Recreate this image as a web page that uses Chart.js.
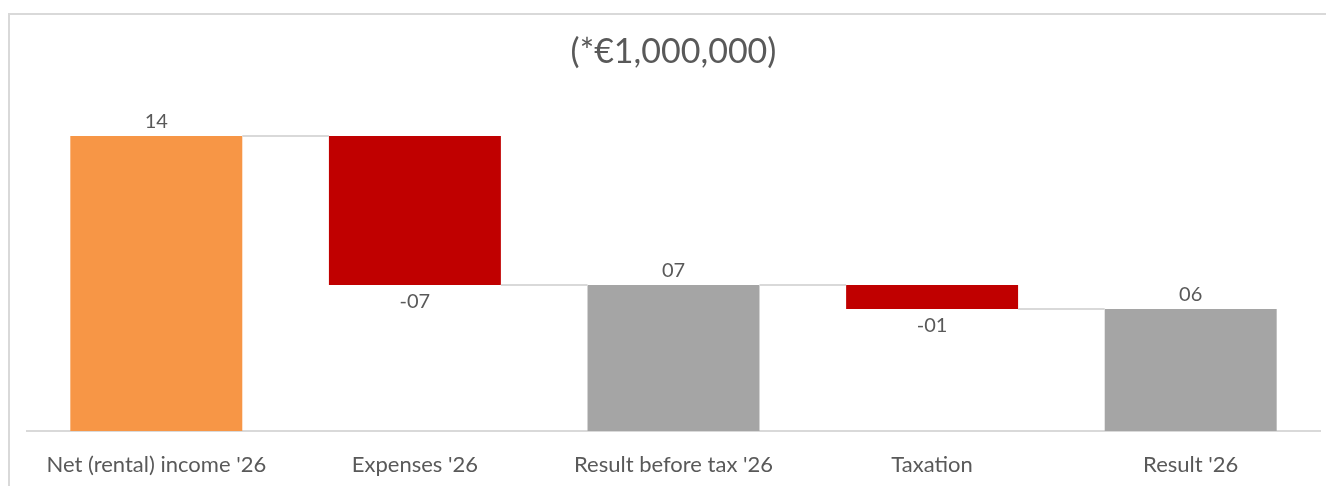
<!DOCTYPE html>
<html>
<head>
<meta charset="utf-8">
<script src="https://cdn.jsdelivr.net/npm/chart.js@4"></script>
<style>
  html, body { margin: 0; padding: 0; background: #ffffff; overflow: hidden; }
  canvas { display: block; }
</style>
</head>
<body>
<canvas id="waterfall" width="1326" height="486"></canvas>
<script>
// categories and values (in millions of euro)
var categories = ["Net (rental) income '26", "Expenses '26", "Result before tax '26", "Taxation", "Result '26"];
var values = [14.0, -7.07, 6.93, -1.14, 5.79];
var isTotal = [true, false, true, false, true];
var barColors = ['#F79646', '#C00000', '#A5A5A5', '#C00000', '#A5A5A5'];

// build the floating ranges for the waterfall
var ranges = [];
var running = 0;
values.forEach(function(v, i) {
    if (isTotal[i]) {
        ranges.push([0, v]);
        running = v;
    } else {
        ranges.push([running, running + v]);
        running = running + v;
    }
});

function fmtLabel(v) {
    var s = String(Math.round(Math.abs(v))).padStart(2, '0');
    return (v < 0 ? '-' : '') + s;
}

var textColor = '#595959';
var fontFamily = 'Lato, "Open Sans", sans-serif';

// frame lines round the chart (left and top only, like the source)
var framePlugin = {
    id: 'frame',
    beforeDraw: function(chart) {
        var ctx = chart.ctx;
        ctx.save();
        ctx.strokeStyle = '#d9d9d9';
        ctx.lineWidth = 2;
        ctx.beginPath();
        ctx.moveTo(9, 486);
        ctx.lineTo(9, 14);
        ctx.lineTo(1326, 14);
        ctx.stroke();
        ctx.restore();
    }
};

// connector lines between neighbouring bars
var connectorPlugin = {
    id: 'connectors',
    afterDatasetsDraw: function(chart) {
        var ctx = chart.ctx;
        var meta = chart.getDatasetMeta(0);
        var yScale = chart.scales.y;
        ctx.save();
        ctx.strokeStyle = '#d9d9d9';
        ctx.lineWidth = 2;
        for (var i = 0; i < meta.data.length - 1; i++) {
            var a = meta.data[i];
            var b = meta.data[i + 1];
            var level = ranges[i][1];
            var y = Math.round(yScale.getPixelForValue(level));
            ctx.beginPath();
            ctx.moveTo(a.x + a.width / 2, y);
            ctx.lineTo(b.x - b.width / 2, y);
            ctx.stroke();
        }
        ctx.restore();
    }
};

// value labels above (positive) or below (negative) each bar
var labelPlugin = {
    id: 'valueLabels',
    afterDatasetsDraw: function(chart) {
        var ctx = chart.ctx;
        var meta = chart.getDatasetMeta(0);
        var yScale = chart.scales.y;
        ctx.save();
        ctx.fillStyle = textColor;
        ctx.font = '20px ' + fontFamily;
        ctx.textAlign = 'center';
        ctx.textBaseline = 'alphabetic';
        meta.data.forEach(function(bar, i) {
            var v = values[i];
            var top = yScale.getPixelForValue(Math.max(ranges[i][0], ranges[i][1]));
            var bottom = yScale.getPixelForValue(Math.min(ranges[i][0], ranges[i][1]));
            if (v >= 0) {
                ctx.fillText(fmtLabel(v), bar.x, top - 8);
            } else {
                ctx.fillText(fmtLabel(v), bar.x, bottom + 23);
            }
        });
        ctx.restore();
    }
};

var ctx = document.getElementById('waterfall');
var myChart = new Chart(ctx, {
    type: 'bar',
    data: {
        labels: categories,
        datasets: [{
            data: ranges,
            backgroundColor: barColors,
            borderWidth: 0,
            categoryPercentage: 1.0,
            barPercentage: 0.665
        }]
    },
    options: {
        responsive: false,
        animation: false,
        layout: {
            padding: { top: 20, left: 27, right: 6, bottom: 0 }
        },
        plugins: {
            legend: { display: false },
            tooltip: { enabled: false },
            title: {
                display: true,
                text: '(*€1,000,000)',
                color: textColor,
                font: { family: fontFamily, size: 34, weight: 'normal' },
                padding: { top: 12, bottom: 21 }
            }
        },
        scales: {
            x: {
                grid: { display: false, drawTicks: false },
                border: { display: true, color: '#d9d9d9', width: 2 },
                ticks: {
                    color: textColor,
                    font: { family: fontFamily, size: 22 },
                    padding: 21,
                    maxRotation: 0,
                    autoSkip: false
                },
                afterFit: function(scale) {
                    scale.height = 55;
                }
            },
            y: {
                display: false,
                min: 0,
                max: 16
            }
        }
    },
    plugins: [framePlugin, connectorPlugin, labelPlugin]
});
</script>
</body>
</html>
